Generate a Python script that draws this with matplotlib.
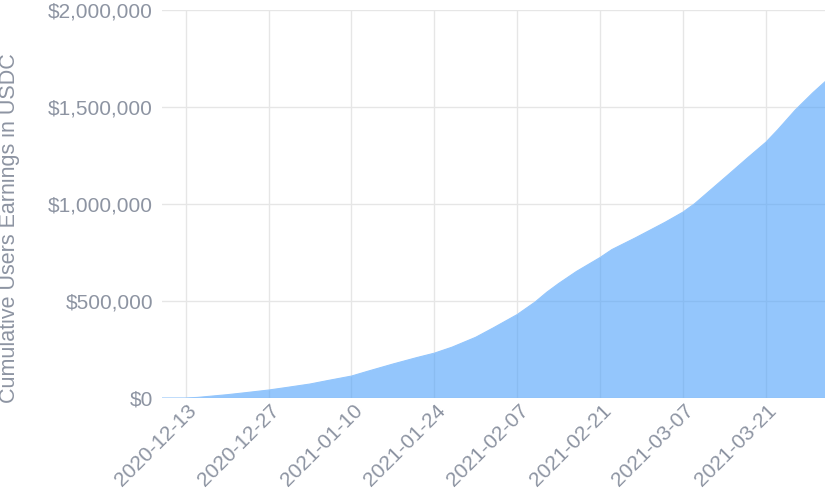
import matplotlib
matplotlib.use("Agg")
import matplotlib.pyplot as plt
import matplotlib.dates as mdates
import matplotlib.ticker as mticker
import matplotlib.transforms as mtransforms
import pandas as pd

dates = ["2020-12-09", "2020-12-13", "2020-12-15", "2020-12-20", "2020-12-23",
         "2020-12-27", "2020-12-30", "2021-01-03", "2021-01-06", "2021-01-10",
         "2021-01-13", "2021-01-17", "2021-01-21", "2021-01-24", "2021-01-27",
         "2021-01-31", "2021-02-03", "2021-02-07", "2021-02-10", "2021-02-12",
         "2021-02-14", "2021-02-17", "2021-02-21", "2021-02-23", "2021-02-27",
         "2021-03-04", "2021-03-07", "2021-03-09", "2021-03-12", "2021-03-15",
         "2021-03-18", "2021-03-21", "2021-03-23", "2021-03-26", "2021-03-29",
         "2021-03-31"]
earnings = [0, 0, 3000, 17000, 27000,
            41000, 54000, 72000, 90000, 113000,
            140000, 175000, 208000, 231000, 262000,
            313000, 362000, 430000, 494000, 545000,
            590000, 652000, 724000, 765000, 826000,
            906000, 958000, 1002000, 1081000, 1160000,
            1240000, 1318000, 1382000, 1485000, 1575000,
            1630000]
tick_dates = ["2020-12-13", "2020-12-27", "2021-01-10", "2021-01-24",
              "2021-02-07", "2021-02-21", "2021-03-07", "2021-03-21"]
y_ticks = [0, 500000, 1000000, 1500000, 2000000]
y_label = "Cumulative Users Earnings in USDC"

x = pd.to_datetime(dates)
text_color = "#8d94a2"
plt.rcParams["font.family"] = ["Liberation Sans", "DejaVu Sans"]

fig = plt.figure(figsize=(8.25, 4.95), dpi=100)
ax = fig.add_axes([162 / 825, 1 - 398 / 495, 1 - 162 / 825, (398 - 10) / 495])

ax.fill_between(x, earnings, 0, facecolor="#4da0fa", alpha=0.6, linewidth=0, zorder=2)
ax.plot(x, earnings, color="#94c6fc", linewidth=0.8, zorder=2)

ax.set_xlim(x[0], x[-1])
ax.set_ylim(0, 2000000)
ax.set_yticks(y_ticks)
ax.yaxis.set_major_formatter(mticker.FuncFormatter(lambda v, p: "${:,.0f}".format(v)))
ax.set_xticks(pd.to_datetime(tick_dates))
ax.xaxis.set_major_formatter(mdates.DateFormatter("%Y-%m-%d"))

ax.grid(True, color="#e6e6e6", linewidth=1, zorder=1)
ax.set_axisbelow(True)
for s in ax.spines.values():
    s.set_visible(False)
ax.tick_params(axis="both", length=0, colors=text_color, labelsize=15)
ax.tick_params(axis="y", pad=6.5)
ax.tick_params(axis="x", pad=4)
offset = mtransforms.ScaledTranslation(0.08, -0.04, fig.dpi_scale_trans)
for lab in ax.get_xticklabels():
    lab.set_rotation(45)
    lab.set_ha("right")
    lab.set_va("center")
    lab.set_rotation_mode("anchor")
    lab.set_transform(lab.get_transform() + offset)

fig.text(10 / 825, 1 - 228 / 495, y_label, rotation=90, ha="center", va="center",
         color=text_color, fontsize=15.5)

fig.savefig("out.png", dpi=100)
